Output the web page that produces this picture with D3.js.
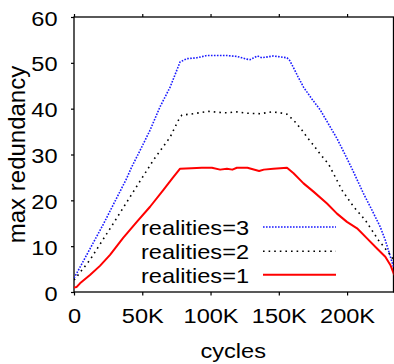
<!DOCTYPE html>
<html>
<head>
<meta charset="utf-8">
<script src="https://cdn.jsdelivr.net/npm/d3@7"></script>
<style>
  html, body { margin: 0; padding: 0; background: #fff; }
  svg { display: block; font-family: "Liberation Sans", Arial, sans-serif; }
</style>
</head>
<body>
<script>
// Max redundancy over simulation cycles, for 1, 2 and 3 realities.
// x values are in thousands of cycles.
const cyclesR3 = [0, 9.3, 21.5, 38.6, 42.3, 48.4, 55.7, 63, 70.4, 77.7, 82.6, 90, 97.3, 104.6, 112, 119.3, 123, 126.6, 129, 134.4, 137.6, 146, 156, 158, 161, 164, 168.1, 174, 180.4, 186.5, 192.6, 198, 203.6, 212, 218, 224.3, 228, 231.7, 234];
const redundR3 = [3.0, 8.1, 14.8, 24.8, 27.3, 30.9, 35.3, 40.4, 44.7, 50.2, 50.9, 51.1, 51.6, 51.6, 51.6, 51.4, 51.1, 50.8, 50.7, 51.5, 51.1, 51.5, 51.1, 50.5, 48.8, 47.0, 44.7, 42.2, 39.7, 36.6, 33.5, 30.3, 26.9, 21.5, 18.0, 14.2, 11.3, 7.7, 5.5];

const cyclesR2 = [0, 11.7, 28.9, 43.5, 58.2, 70.4, 76.5, 79, 87.5, 98.5, 105.8, 112, 119.3, 126.6, 136.4, 145, 151, 156, 159.6, 162, 167, 170.6, 175.5, 180, 186.5, 196.3, 204.8, 213.3, 223, 231.7, 234];
const redundR2 = [2.6, 7.0, 15.0, 21.9, 28.8, 33.8, 37.5, 38.6, 38.9, 39.4, 39.2, 39.1, 39.3, 39.0, 38.9, 39.3, 39.1, 38.8, 37.8, 37.1, 35.3, 33.8, 32.0, 30.2, 27.9, 22.2, 18.6, 15.7, 11.3, 8.1, 7.0];

const cyclesR1 = [0, 2, 4.4, 11.7, 19, 26.4, 36, 46, 55.7, 65.5, 72, 77.7, 86, 93.6, 101, 107, 112, 116, 119.3, 127, 135.6, 139, 146, 156, 160.8, 168.1, 175.4, 185.3, 192.6, 199.9, 207.3, 214.6, 221.9, 228, 231.7, 234.6];
const redundR1 = [1.0, 1.1, 1.9, 3.7, 5.7, 8.1, 11.8, 15.3, 18.6, 22.3, 24.8, 26.9, 27.0, 27.1, 27.1, 26.7, 26.9, 26.7, 27.1, 27.1, 26.4, 26.7, 26.9, 27.1, 25.9, 23.7, 21.9, 19.3, 17.1, 15.3, 13.9, 11.7, 9.5, 7.7, 5.9, 3.7];

const xTicks = [0, 50, 100, 150, 200];
const xTickLabels = ["0", "50K", "100K", "150K", "200K"];
const yTicks = [0, 10, 20, 30, 40, 50, 60];

const seriesNames = ["realities=3", "realities=2", "realities=1"];
const seriesColors = ["#1a1aff", "#000000", "#ff0000"];
const seriesDash = ["1.6,1.4", "1.6,4", null];
const seriesWidth = [1.6, 1.6, 2];

const W = 394, H = 364;
const plot = { left: 74, right: 393.5, top: 17, bottom: 292 };
const stretch = 1.15;      // horizontal stretch of the labels
const fontSize = 20.5;

const svg = d3.select("body").append("svg")
  .attr("width", W).attr("height", H);

const x = d3.scaleLinear().domain([0, 234]).range([plot.left, plot.right]);
const y = d3.scaleLinear().domain([0, 60]).range([plot.bottom, plot.top]);

svg.append("defs").append("clipPath").attr("id", "plotclip")
  .append("rect")
  .attr("x", plot.left).attr("y", plot.top)
  .attr("width", plot.right - plot.left).attr("height", plot.bottom - plot.top);

// Axes
const xAxis = svg.append("g")
  .attr("transform", `translate(0,${plot.bottom})`)
  .call(d3.axisBottom(x).tickValues(xTicks).tickFormat((d, i) => xTickLabels[i])
    .tickSize(3.5).tickSizeOuter(0));
xAxis.selectAll("text")
  .attr("y", null).attr("dy", null)
  .attr("text-anchor", "middle")
  .attr("transform", `translate(0,31) scale(${stretch},1)`);

const yAxis = svg.append("g")
  .attr("transform", `translate(${plot.left},0)`)
  .call(d3.axisLeft(y).tickValues(yTicks).tickSize(3).tickSizeOuter(0));
yAxis.selectAll("text")
  .attr("x", null).attr("dy", null)
  .attr("text-anchor", "end")
  .attr("transform", `translate(-16.5,8) scale(${stretch},1)`);

const topAxis = svg.append("g")
  .attr("transform", `translate(0,${plot.top})`)
  .call(d3.axisTop(x).tickValues(xTicks).tickFormat("").tickSize(3).tickSizeOuter(0));

const rightAxis = svg.append("g")
  .attr("transform", `translate(${plot.right},0)`)
  .call(d3.axisRight(y).tickValues(yTicks).tickFormat("").tickSize(3).tickSizeOuter(0));

svg.selectAll(".domain").remove();
svg.selectAll(".tick line").attr("stroke", "#000").attr("stroke-width", 1.2);
svg.selectAll(".tick text")
  .attr("font-size", fontSize)
  .attr("font-family", '"Liberation Sans", Arial, sans-serif')
  .attr("fill", "#000");

// Frame
svg.append("rect")
  .attr("x", plot.left).attr("y", plot.top)
  .attr("width", plot.right - plot.left).attr("height", plot.bottom - plot.top)
  .attr("fill", "none").attr("stroke", "#000").attr("stroke-width", 1.3);

// Series
const series = [
  { xs: cyclesR3, ys: redundR3 },
  { xs: cyclesR2, ys: redundR2 },
  { xs: cyclesR1, ys: redundR1 }
];
const line = d3.line().x(d => x(d[0])).y(d => y(d[1]));
const lines = svg.append("g").attr("clip-path", "url(#plotclip)");
series.forEach((s, i) => {
  lines.append("path")
    .datum(s.xs.map((v, j) => [v, s.ys[j]]))
    .attr("d", line)
    .attr("fill", "none")
    .attr("stroke", seriesColors[i])
    .attr("stroke-width", seriesWidth[i])
    .attr("stroke-dasharray", seriesDash[i])
    .attr("stroke-linejoin", "round");
});

// Legend
const legendBase = [235, 259.3, 282.7];
const legend = svg.append("g");
seriesNames.forEach((name, i) => {
  legend.append("text")
    .attr("transform", `translate(249,${legendBase[i]}) scale(${stretch},1)`)
    .attr("text-anchor", "end")
    .attr("font-size", fontSize)
    .attr("fill", "#000")
    .text(name);
  legend.append("line")
    .attr("x1", 263).attr("x2", 336)
    .attr("y1", legendBase[i] - 8).attr("y2", legendBase[i] - 8)
    .attr("stroke", seriesColors[i])
    .attr("stroke-width", seriesWidth[i])
    .attr("stroke-dasharray", seriesDash[i]);
});

// Axis titles
svg.append("text")
  .attr("transform", `translate(${(plot.left + plot.right) / 2 - 0.5},358.3) scale(${stretch},1)`)
  .attr("text-anchor", "middle")
  .attr("font-size", fontSize)
  .attr("fill", "#000")
  .text("cycles");

svg.append("text")
  .attr("transform", `translate(25,${(plot.top + plot.bottom) / 2}) rotate(-90)`)
  .attr("text-anchor", "middle")
  .attr("font-size", 24)
  .attr("fill", "#000")
  .text("max redundancy");
</script>
</body>
</html>
